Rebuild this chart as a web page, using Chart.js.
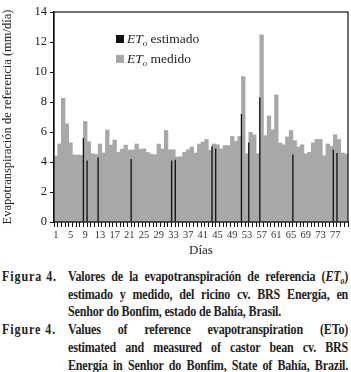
<!DOCTYPE html>
<html lang="es">
<head>
<meta charset="UTF-8">
<title>Figura 4</title>
<script src="https://cdn.jsdelivr.net/npm/chart.js"></script>
<style>
  body { margin:0; background:#fff; width:351px; height:372px; overflow:hidden; position:relative; font-family:"Liberation Serif", serif; color:#1e1e1e; }
  #wrap { position:absolute; left:0; top:0; width:351px; height:262px; }
  .leg { position:absolute; left:116px; font-size:13.5px; line-height:14px; white-space:nowrap; }
  .leg .box { display:inline-block; width:8px; height:8px; margin-right:3px; vertical-align:0px; }
  sub { font-size:0.65em; vertical-align:-0.3em; line-height:0; }
  .cap { position:absolute; left:2px; top:268px; width:417px; transform:scaleX(0.83); transform-origin:left top;
         font-weight:bold; font-size:14.5px; line-height:17.7px; letter-spacing:-0.2px; }
  .row { display:flex; }
  .lab { width:79.5px; flex:none; letter-spacing:1.1px; }
  .txt { flex:1; text-align:justify; text-align-last:justify; white-space:nowrap; }
  .txt.end { text-align-last:left; }
</style>
</head>
<body>
<div id="wrap"><canvas id="chart"></canvas></div>
<div class="leg" style="top:32px"><span class="box" style="background:#111"></span><i>ET<sub>o</sub></i> estimado</div>
<div class="leg" style="top:52px"><span class="box" style="background:#a8a8a8"></span><i>ET<sub>o</sub></i> medido</div>
<div class="cap">
  <div class="row"><div class="lab">Figura 4.</div><div class="txt">Valores de la evapotranspiración de referencia (<i>ET<sub>o</sub></i>)</div></div>
  <div class="row"><div class="lab"></div><div class="txt">estimado y medido, del ricino cv. BRS Energía, en</div></div>
  <div class="row"><div class="lab"></div><div class="txt end">Senhor do Bonfim, estado de Bahía, Brasil.</div></div>
  <div class="row"><div class="lab">Figure 4.</div><div class="txt">Values of reference evapotranspiration (ETo)</div></div>
  <div class="row"><div class="lab"></div><div class="txt">estimated and measured of castor bean cv. BRS</div></div>
  <div class="row"><div class="lab"></div><div class="txt">Energía in Senhor do Bonfim, State of Bahía, Brazil.</div></div>
</div>

<script>
  // days 1..80
  const days = Array.from({ length: 80 }, (_, i) => String(i + 1));
  const shownDays = ['1','5','9','13','17','21','25','29','33','37','41','45','49','53','57','61','65','69','73','77'];

  // ETo medido (mm/día), one per day
  const measured = [
    4.4, 5.2, 8.25, 6.55, 5.28, 4.47, 4.47, 4.45, 6.7, 5.35,
    4.55, 4.5, 5.2, 4.6, 6.13, 5.13, 5.47, 4.65, 4.85, 5.13,
    4.8, 4.8, 5.2, 4.85, 4.88, 4.64, 4.52, 4.48, 5.2, 4.87,
    6.1, 4.82, 4.82, 4.33, 4.35, 4.65, 4.82, 5.0, 4.6, 5.2,
    5.33, 5.5, 4.78, 5.2, 5.15, 4.87, 5.1, 5.1, 5.7, 5.38,
    5.7, 9.7, 4.55, 5.98, 5.82, 4.55, 12.47, 5.75, 7.07, 6.15,
    8.47, 5.27, 5.15, 5.67, 6.1, 5.42, 5.0, 5.15, 4.55, 4.65,
    5.27, 5.5, 5.5, 4.42, 5.2, 5.05, 5.82, 5.5, 4.6, 4.53
  ];

  // ETo estimado: only visible where it shows as a thin line (day index)
  const estimated = [
    null, null, null, null, null, null, null, null, 5.6, 4.1,
    null, null, 4.3, null, null, null, null, null, null, null,
    null, 4.2, null, null, null, null, null, null, null, null,
    null, null, 4.1, 4.15, null, null, null, null, null, null,
    null, null, null, 5.05, 4.9, null, null, null, null, null,
    null, 7.2, null, 5.3, null, null, 8.3, null, null, null,
    null, null, null, null, null, 4.5, null, null, null, null,
    null, null, null, null, null, null, 4.82, 4.6, null, null
  ];

  // black lines sit on the left edge of each day -> edge axis with 81 slots
  const edges = Array.from({ length: 81 }, (_, i) => String(i));
  const estimatedEdges = estimated.concat([null]);

  const frame = {
    id: 'frame',
    afterDraw(chart) {
      const { ctx, chartArea: a } = chart;
      ctx.save();
      ctx.strokeStyle = '#111';
      ctx.lineWidth = 1.2;
      ctx.strokeRect(a.left, a.top, a.right - a.left, a.bottom - a.top);
      ctx.restore();
    }
  };

  new Chart(document.getElementById('chart'), {
    type: 'bar',
    data: {
      labels: days,
      datasets: [
        {
          label: 'ETo estimado',
          data: estimatedEdges,
          xAxisID: 'x2',
          backgroundColor: '#111',
          grouped: false,
          barPercentage: 0.36,
          categoryPercentage: 1,
          order: 0
        },
        {
          label: 'ETo medido',
          data: measured,
          xAxisID: 'x',
          backgroundColor: '#a8a8a8',
          grouped: false,
          barPercentage: 1,
          categoryPercentage: 1,
          borderWidth: 0,
          order: 1
        }
      ]
    },
    options: {
      responsive: true,
      maintainAspectRatio: false,
      animation: false,
      layout: { padding: { top: 12, right: 3, left: 0, bottom: 0 } },
      plugins: { legend: { display: false }, tooltip: { enabled: false } },
      scales: {
        x: {
          type: 'category',
          labels: days,
          offset: true,
          grid: { offset: true, drawOnChartArea: false, drawTicks: true, tickLength: 5, color: '#111' },
          border: { display: true, color: '#111', width: 1.2 },
          ticks: {
            autoSkip: false, maxRotation: 0, padding: 2, color: '#333',
            font: { family: 'Liberation Serif', size: 10.5 },
            callback: (v, i) => shownDays.includes(days[i]) ? days[i] : ''
          },
          title: { display: true, text: 'Días', color: '#222', font: { family: 'Liberation Serif', size: 13 }, padding: { top: 0, bottom: 4 } },
          afterFit: s => { s.height = 40; }
        },
        x2: {
          type: 'category',
          labels: edges,
          offset: false,
          display: false,
          grid: { display: false }
        },
        y: {
          min: 0, max: 14,
          ticks: { stepSize: 2, padding: 3, color: '#222', font: { family: 'Liberation Serif', size: 12.5 } },
          grid: { drawOnChartArea: false, drawTicks: true, tickLength: 4, color: '#111' },
          border: { display: true, color: '#111', width: 1.2 },
          title: { display: true, text: 'Evapotranspiración de referencia (mm/día)', color: '#222', font: { family: 'Liberation Serif', size: 12.5 }, padding: { top: 0, bottom: 4 } },
          afterFit: s => { s.width = 54; }
        }
      }
    },
    plugins: [frame]
  });
</script>
</body>
</html>
